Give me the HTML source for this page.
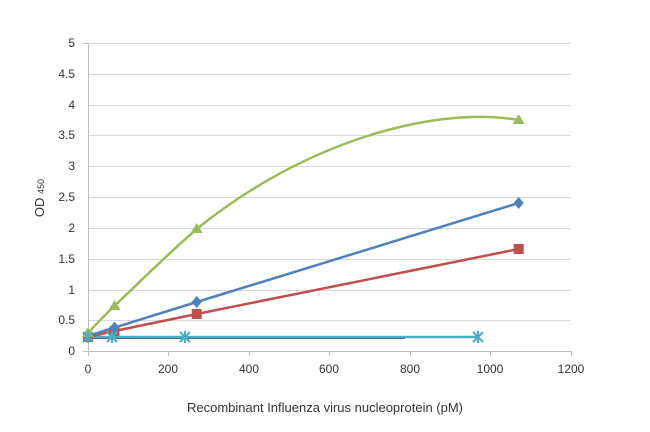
<!DOCTYPE html><html><head><style>body{margin:0;background:#fff}</style></head><body>
<svg width="650" height="427" xmlns="http://www.w3.org/2000/svg" font-family="Liberation Sans, sans-serif">
<g stroke="#d9d9d9" stroke-width="1">
<line x1="88" y1="43.5" x2="571" y2="43.5"/><line x1="88" y1="74.5" x2="571" y2="74.5"/><line x1="88" y1="105.5" x2="571" y2="105.5"/><line x1="88" y1="135.5" x2="571" y2="135.5"/><line x1="88" y1="166.5" x2="571" y2="166.5"/><line x1="88" y1="197.5" x2="571" y2="197.5"/><line x1="88" y1="228.5" x2="571" y2="228.5"/><line x1="88" y1="259.5" x2="571" y2="259.5"/><line x1="88" y1="290.5" x2="571" y2="290.5"/><line x1="88" y1="320.5" x2="571" y2="320.5"/>
</g>
<g stroke="#bfbfbf"><line x1="88" y1="351.5" x2="571" y2="351.5"/><line x1="88.5" y1="43" x2="88.5" y2="351"/>
<line x1="88.5" y1="351" x2="88.5" y2="356"/><line x1="168.5" y1="351" x2="168.5" y2="356"/><line x1="249.5" y1="351" x2="249.5" y2="356"/><line x1="329.5" y1="351" x2="329.5" y2="356"/><line x1="410.5" y1="351" x2="410.5" y2="356"/><line x1="490.5" y1="351" x2="490.5" y2="356"/><line x1="571.5" y1="351" x2="571.5" y2="356"/>
<line x1="83" y1="43.5" x2="88" y2="43.5"/><line x1="83" y1="351.5" x2="88" y2="351.5"/></g>
<g font-size="12" fill="#333" text-anchor="end">
<text x="75" y="47">5</text><text x="75" y="78">4.5</text><text x="75" y="109">4</text><text x="75" y="139">3.5</text><text x="75" y="170">3</text><text x="75" y="201">2.5</text><text x="75" y="232">2</text><text x="75" y="263">1.5</text><text x="75" y="294">1</text><text x="75" y="324">0.5</text><text x="75" y="355">0</text></g>
<g font-size="12" fill="#333" text-anchor="middle">
<text x="88" y="373">0</text><text x="168" y="373">200</text><text x="249" y="373">400</text><text x="329" y="373">600</text><text x="410" y="373">800</text><text x="490" y="373">1000</text><text x="571" y="373">1200</text>
<text x="325" y="412" font-size="13">Recombinant Influenza virus nucleoprotein (pM)</text></g>
<text transform="translate(44,198) rotate(-90)" font-size="13" fill="#333" text-anchor="middle">OD <tspan font-size="9">450</tspan></text>
<line x1="88" y1="338" x2="405" y2="338" stroke="#4a5a8a" stroke-width="2"/>
<line x1="88" y1="337" x2="478" y2="337" stroke="#4bacc6" stroke-width="2.5"/>
<polyline points="88,337 114.5,331 196.7,314 518.7,249" fill="none" stroke="#c0504d" stroke-width="2.5"/>
<polyline points="88,336 114.5,327.6 196.7,302 518.7,203" fill="none" stroke="#4f81bd" stroke-width="2.5"/>
<path d="M88,333 C100,320 108,312 114.5,306 C150,272 170,252 196.7,229 C300,145 430,105 518.7,120" fill="none" stroke="#9bbb59" stroke-width="2.5"/>
<g fill="#c0504d"><rect x="83" y="332" width="10" height="10"/><rect x="109.5" y="326" width="10" height="10"/><rect x="191.7" y="309" width="10" height="10"/><rect x="513.7" y="244" width="10" height="10"/></g>
<g fill="#4f81bd"><path d="M88,330 l5,6 -5,6 -5,-6z"/><path d="M114.5,321.6 l5,6 -5,6 -5,-6z"/><path d="M196.7,296 l5,6 -5,6 -5,-6z"/><path d="M518.7,197 l5,6 -5,6 -5,-6z"/></g>
<g fill="#9bbb59"><path d="M88,327 l6,10 h-12z"/><path d="M114.5,300 l6,10 h-12z"/><path d="M196.7,223 l6,10 h-12z"/><path d="M518.7,114 l6,10 h-12z"/></g>
<g stroke="#4bacc6" stroke-width="2"><path d="M83,332 l10,10 M93,332 l-10,10 M88,331 v12"/><path d="M107,332 l10,10 M117,332 l-10,10 M112,331 v12"/><path d="M180,332 l10,10 M190,332 l-10,10 M185,331 v12"/><path d="M473,332 l10,10 M483,332 l-10,10 M478,331 v12"/></g>
</svg></body></html>
